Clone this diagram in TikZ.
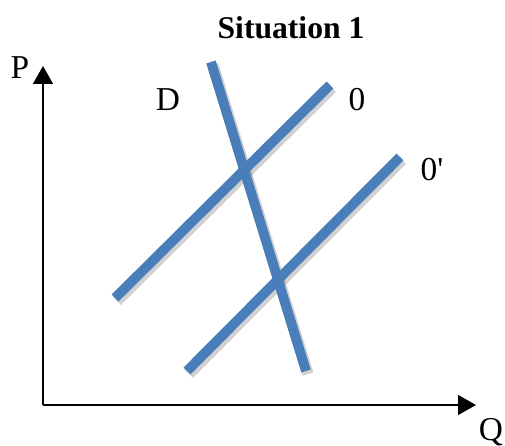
\documentclass[tikz,border=0pt]{standalone}
\usepackage{fontspec}
\setmainfont{Liberation Serif}
\usepackage{xcolor}
\usepackage{tikz}
\usetikzlibrary{arrows.meta,positioning,calc}
\definecolor{curveblue}{HTML}{4A7EBB}
\tikzset{
  vaxis/.style={-{Triangle[length=3.6mm,width=4mm]},line width=0.8pt,draw=black},
  vcurve/.style={line width=5.6pt,draw=curveblue},
  vshade/.style={line width=6.4pt,draw=black,opacity=0.18},
  vlabel/.style={font=\fontsize{19}{22}\selectfont,inner sep=0pt}
}
\begin{document}
\begin{tikzpicture}[x=0.02cm,y=-0.02cm]
  \useasboundingbox (0,0) rectangle (505,446);
  % axes
  \coordinate (o) at (43,405);
  \coordinate (ptop) at (43,66);
  \coordinate (qend) at (476,405);
  \draw[vaxis] (o) -- (ptop);
  \draw[vaxis] (o) -- (qend);
  \node[vlabel] (p) at (20,68) {P};
  \node[vlabel] (q) at (491,432) {Q};
  \node[vlabel,font=\fontsize{18}{22}\selectfont\bfseries] (title) at (291,28) {Situation 1};
  % curves
  \coordinate (d1) at (211,62);  \coordinate (d2) at (306,371);
  \coordinate (s1) at (115,298); \coordinate (s2) at (330,85);
  \coordinate (t1) at (187,371); \coordinate (t2) at (400,157);
  \foreach \a/\b in {d1/d2,s1/s2,t1/t2}
    \draw[vshade] ($(\a)+(2,3)$) -- ($(\b)+(2,3)$);
  \draw[vcurve] (s1) -- (s2);
  \draw[vcurve] (t1) -- (t2);
  \draw[vcurve] (d1) -- (d2);
  \node[vlabel] (dl) at (168,100) {D};
  \node[vlabel] (sl) at (357,100) {0};
  \node[vlabel] (tl) at (432,170) {0\textquotesingle};
\end{tikzpicture}
\end{document}
